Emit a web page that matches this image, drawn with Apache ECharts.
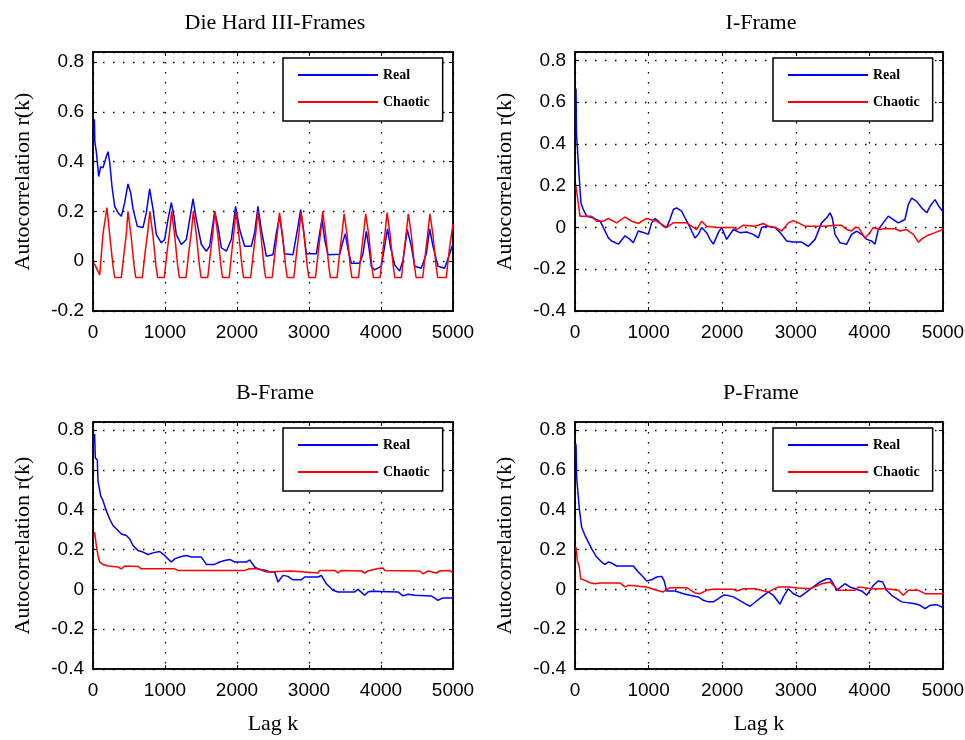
<!DOCTYPE html>
<html>
<head>
<meta charset="utf-8">
<script src="https://cdn.jsdelivr.net/npm/echarts@6/dist/echarts.min.js"></script>
<style>
html, body { margin: 0; padding: 0; background: #fff; }
#chart { width: 965px; height: 740px; }
</style>
</head>
<body>
<div id="chart"></div>
<script>
// panel titles and legend names
var titles = ['Die Hard III-Frames', 'I-Frame', 'B-Frame', 'P-Frame'];
var seriesNames = ['Real', 'Chaotic'];
var yName = 'Autocorrelation r(k)';
var xName = 'Lag k';

// x axis: lag k
var lagMin = 0, lagMax = 5000, lagStep = 1000;
// y axis ranges per panel
var yMins = [-0.2, -0.4, -0.4, -0.4];
var yMax = 0.84, yStep = 0.2;

// [lag, r(k)]
var dieHardReal = [[20,0.57],[25,0.48],[46,0.44],[79,0.34],[106,0.38],[139,0.375],[185,0.42],[208,0.44],[231,0.40],[264,0.30],[301,0.22],[347,0.195],[394,0.18],[440,0.235],[486,0.31],[523,0.275],[556,0.21],[616,0.14],[694,0.135],[741,0.195],[787,0.29],[833,0.21],[880,0.107],[949,0.074],[995,0.087],[1042,0.168],[1088,0.235],[1125,0.18],[1157,0.107],[1227,0.067],[1296,0.087],[1343,0.168],[1389,0.25],[1435,0.168],[1505,0.067],[1574,0.04],[1620,0.06],[1667,0.154],[1690,0.2],[1736,0.14],[1782,0.054],[1852,0.04],[1921,0.087],[1981,0.22],[2037,0.127],[2106,0.06],[2199,0.06],[2245,0.114],[2291,0.22],[2338,0.127],[2407,0.02],[2500,0.026],[2546,0.113],[2593,0.18],[2625,0.113],[2662,0.03],[2778,0.026],[2847,0.14],[2884,0.207],[2917,0.14],[2963,0.03],[3102,0.03],[3148,0.113],[3181,0.167],[3218,0.086],[3264,0.026],[3426,0.028],[3472,0.08],[3505,0.11],[3540,0.05],[3588,-0.008],[3704,-0.008],[3750,0.03],[3796,0.12],[3830,0.06],[3865,-0.02],[3912,-0.035],[4005,-0.02],[4051,0.06],[4090,0.13],[4130,0.06],[4190,-0.015],[4259,-0.04],[4306,0.005],[4366,0.127],[4421,0.06],[4468,-0.02],[4560,-0.028],[4630,0.03],[4676,0.13],[4722,0.06],[4792,-0.02],[4884,-0.028],[4954,0.03],[5000,0.07]];
var dieHardChaotic = [[20,-0.01],[93,-0.055],[139,0.11],[194,0.215],[231,0.11],[278,-0.02],[301,-0.065],[394,-0.065],[430,0.03],[463,0.11],[486,0.2],[526,0.11],[571,-0.02],[593,-0.065],[686,-0.065],[726,0.04],[761,0.12],[790,0.2],[830,0.11],[875,-0.02],[897,-0.065],[990,-0.065],[1030,0.04],[1065,0.12],[1092,0.2],[1132,0.11],[1177,-0.02],[1199,-0.065],[1292,-0.065],[1332,0.04],[1367,0.12],[1394,0.2],[1434,0.11],[1479,-0.02],[1501,-0.065],[1594,-0.065],[1634,0.04],[1667,0.12],[1692,0.2],[1732,0.11],[1777,-0.02],[1799,-0.065],[1892,-0.065],[1928,0.04],[1958,0.12],[1984,0.2],[2024,0.11],[2069,-0.02],[2091,-0.065],[2190,-0.065],[2230,0.04],[2263,0.12],[2290,0.2],[2330,0.11],[2375,-0.02],[2397,-0.065],[2490,-0.065],[2530,0.04],[2563,0.12],[2590,0.195],[2630,0.11],[2675,-0.02],[2697,-0.065],[2790,-0.065],[2830,0.04],[2863,0.12],[2890,0.195],[2930,0.11],[2975,-0.02],[2997,-0.065],[3090,-0.065],[3130,0.04],[3163,0.12],[3190,0.2],[3230,0.11],[3275,-0.02],[3297,-0.065],[3390,-0.065],[3428,0.04],[3461,0.12],[3488,0.19],[3528,0.11],[3573,-0.02],[3595,-0.065],[3688,-0.065],[3728,0.04],[3761,0.12],[3788,0.19],[3828,0.11],[3873,-0.02],[3895,-0.065],[3988,-0.065],[4025,0.04],[4058,0.12],[4085,0.195],[4125,0.11],[4170,-0.02],[4192,-0.065],[4285,-0.065],[4320,0.04],[4353,0.12],[4380,0.19],[4420,0.11],[4465,-0.02],[4487,-0.065],[4580,-0.065],[4620,0.04],[4653,0.12],[4680,0.19],[4720,0.11],[4765,-0.02],[4787,-0.065],[4907,-0.065],[4950,0.05],[5000,0.15]];

var iReal = [[14,0.665],[20,0.45],[45,0.443],[59,0.23],[81,0.117],[113,0.086],[158,0.054],[249,0.046],[340,0.03],[385,0],[453,-0.05],[498,-0.065],[589,-0.08],[680,-0.04],[747,-0.057],[792,-0.073],[860,-0.017],[937,-0.025],[996,-0.033],[1041,0.022],[1087,0.043],[1132,0.03],[1200,0.006],[1245,0],[1290,0.038],[1336,0.086],[1381,0.094],[1449,0.078],[1495,0.046],[1563,0],[1630,-0.05],[1676,-0.033],[1721,0],[1789,-0.025],[1834,-0.057],[1880,-0.08],[1948,-0.025],[1993,0],[2060,-0.057],[2151,-0.01],[2241,-0.025],[2332,-0.022],[2422,-0.033],[2491,-0.05],[2536,0],[2604,0.006],[2717,0],[2808,-0.033],[2876,-0.065],[2967,-0.07],[3079,-0.07],[3170,-0.09],[3261,-0.057],[3351,0.022],[3419,0.046],[3465,0.07],[3496,0.046],[3533,-0.033],[3600,-0.073],[3691,-0.08],[3759,-0.033],[3827,-0.017],[3895,-0.033],[3963,-0.057],[4031,-0.065],[4076,-0.08],[4121,-0.01],[4189,0.022],[4257,0.054],[4325,0.038],[4393,0.022],[4483,0.038],[4529,0.11],[4574,0.14],[4642,0.125],[4710,0.094],[4778,0.07],[4823,0.1],[4891,0.133],[4946,0.1],[5000,0.075]];
var iChaotic = [[14,0.197],[32,0.15],[68,0.054],[226,0.054],[294,0.03],[385,0.03],[453,0.043],[566,0.022],[680,0.05],[770,0.03],[860,0.019],[973,0.043],[1109,0.03],[1245,0],[1336,0.022],[1517,0.022],[1653,-0.01],[1721,0.03],[1789,0.006],[1925,0],[2151,0],[2196,-0.01],[2287,0.011],[2446,0.006],[2559,0.019],[2627,0.006],[2717,0],[2808,-0.017],[2899,0.022],[2967,0.033],[3035,0.022],[3125,0.006],[3397,0.006],[3533,0.01],[3623,0.01],[3691,-0.01],[3759,-0.017],[3804,0],[3850,0],[3895,-0.025],[3940,-0.05],[4008,-0.025],[4053,0],[4144,-0.01],[4189,-0.006],[4348,-0.006],[4416,-0.017],[4506,-0.01],[4597,-0.033],[4665,-0.07],[4733,-0.05],[4801,-0.037],[4891,-0.025],[5000,-0.01]];

var bReal = [[23,0.78],[32,0.66],[60,0.65],[69,0.545],[93,0.537],[106,0.47],[139,0.445],[185,0.395],[231,0.353],[278,0.32],[347,0.295],[394,0.278],[463,0.27],[509,0.253],[556,0.22],[625,0.195],[694,0.187],[764,0.175],[833,0.183],[926,0.19],[995,0.17],[1042,0.153],[1088,0.137],[1134,0.153],[1227,0.165],[1296,0.17],[1366,0.162],[1505,0.162],[1574,0.125],[1690,0.125],[1759,0.137],[1829,0.145],[1898,0.15],[1968,0.137],[2130,0.137],[2176,0.148],[2245,0.112],[2292,0.103],[2338,0.098],[2407,0.095],[2454,0.087],[2523,0.087],[2569,0.037],[2639,0.07],[2708,0.065],[2778,0.048],[2894,0.048],[2940,0.062],[3125,0.062],[3171,0.07],[3241,0.028],[3333,-0.005],[3403,-0.013],[3634,-0.013],[3681,0],[3773,-0.03],[3819,-0.013],[3866,-0.01],[4236,-0.013],[4306,-0.033],[4375,-0.025],[4468,-0.03],[4699,-0.033],[4792,-0.055],[4861,-0.043],[5000,-0.043]];
var bChaotic = [[23,0.287],[46,0.22],[69,0.17],[93,0.137],[139,0.125],[208,0.117],[347,0.112],[394,0.103],[440,0.117],[625,0.115],[671,0.103],[1134,0.103],[1180,0.095],[2106,0.095],[2176,0.103],[2292,0.103],[2407,0.087],[2431,0.095],[2755,0.092],[2778,0.082],[3125,0.082],[3148,0.095],[3356,0.095],[3403,0.083],[3449,0.095],[3727,0.092],[3773,0.082],[3819,0.092],[3958,0.105],[4028,0.107],[4051,0.095],[4537,0.092],[4583,0.078],[4653,0.092],[4769,0.082],[4815,0.092],[4954,0.095],[5000,0.082]];

var pReal = [[14,0.728],[23,0.56],[45,0.553],[59,0.403],[82,0.395],[91,0.31],[136,0.27],[181,0.237],[226,0.203],[294,0.162],[362,0.137],[408,0.125],[453,0.137],[498,0.132],[566,0.117],[793,0.117],[860,0.087],[928,0.062],[974,0.042],[1042,0.048],[1110,0.062],[1178,0.065],[1209,0.045],[1245,-0.008],[1359,-0.008],[1472,-0.022],[1562,-0.03],[1676,-0.038],[1744,-0.055],[1812,-0.063],[1880,-0.063],[1948,-0.047],[2015,-0.03],[2060,-0.03],[2151,-0.038],[2219,-0.052],[2310,-0.072],[2378,-0.085],[2446,-0.065],[2536,-0.038],[2627,-0.013],[2695,-0.03],[2785,-0.075],[2830,-0.038],[2899,0.003],[2967,-0.022],[3057,-0.038],[3148,-0.013],[3238,0.012],[3329,0.037],[3419,0.053],[3465,0.053],[3510,0.028],[3555,-0.005],[3614,0.012],[3668,0.028],[3736,0.012],[3804,0.003],[3895,-0.008],[3963,-0.03],[4008,-0.005],[4053,0.02],[4121,0.042],[4180,0.037],[4234,-0.005],[4302,-0.03],[4370,-0.047],[4438,-0.063],[4529,-0.068],[4620,-0.072],[4688,-0.08],[4756,-0.097],[4824,-0.08],[4914,-0.077],[5000,-0.092]];
var pChaotic = [[14,0.212],[32,0.145],[59,0.112],[77,0.053],[136,0.045],[204,0.033],[272,0.028],[340,0.032],[611,0.032],[679,0.012],[725,0.02],[974,0.012],[1110,-0.005],[1200,-0.013],[1291,0.008],[1517,0.008],[1630,-0.018],[1698,-0.022],[1789,-0.005],[1857,0],[2151,0],[2197,-0.008],[2287,0.003],[2446,0.003],[2627,-0.013],[2763,0.012],[2899,0.012],[3035,0.007],[3193,0.003],[3351,0.028],[3465,0.037],[3578,-0.005],[3804,-0.005],[3850,0.012],[4031,0.003],[4234,0.003],[4393,-0.005],[4461,-0.03],[4529,-0.005],[4665,-0.005],[4756,-0.022],[5000,-0.022]];

var realData = [dieHardReal, iReal, bReal, pReal];
var chaoticData = [dieHardChaotic, iChaotic, bChaotic, pChaotic];

// layout of the four panels (pixels)
var boxes = [
    { left: 93, top: 52, width: 360, height: 259 },
    { left: 575, top: 52, width: 368, height: 259 },
    { left: 93, top: 422, width: 360, height: 247 },
    { left: 575, top: 422, width: 368, height: 247 }
];

var serif = 'Liberation Serif';
var sans = 'Liberation Sans';
var dotted = { color: '#000', width: 1.3, type: [1.5, 8.5] };

var grids = [], xAxes = [], yAxes = [], series = [], titleList = [], legends = [];

boxes.forEach(function (b, i) {
    grids.push({
        left: b.left, top: b.top, width: b.width, height: b.height,
        show: true, borderColor: '#000', borderWidth: 1.5, backgroundColor: '#fff',
        outerBoundsMode: 'none'
    });

    // bottom x axis
    xAxes.push({
        type: 'value', gridIndex: i, min: lagMin, max: lagMax, interval: lagStep,
        name: i >= 2 ? xName : '', nameLocation: 'middle', nameGap: 44,
        nameTextStyle: { fontFamily: serif, fontSize: 22, color: '#000' },
        axisLine: { show: true, onZero: false, lineStyle: { color: '#000', width: 1.5 } },
        axisTick: { show: true, inside: true, length: 4, lineStyle: { color: '#000' } },
        axisLabel: {
            fontFamily: sans, fontSize: 19, color: '#000', margin: 12,
            formatter: function (v) { return String(v); }
        },
        splitLine: { show: true, lineStyle: dotted }
    });
    // top x axis (ticks only)
    xAxes.push({
        type: 'value', gridIndex: i, position: 'top', min: lagMin, max: lagMax, interval: lagStep,
        axisLine: { show: true, onZero: false, lineStyle: { color: '#000', width: 1.5 } },
        axisTick: { show: true, inside: true, length: 4, lineStyle: { color: '#000' } },
        axisLabel: { show: false },
        splitLine: { show: false }
    });

    // left y axis
    yAxes.push({
        type: 'value', gridIndex: i, min: yMins[i], max: yMax, interval: yStep,
        name: yName, nameLocation: 'middle', nameGap: 59,
        nameTextStyle: { fontFamily: serif, fontSize: 22, color: '#000' },
        axisLine: { show: true, onZero: false, lineStyle: { color: '#000', width: 1.5 } },
        axisTick: { show: true, inside: true, length: 4, lineStyle: { color: '#000' } },
        axisLabel: { fontFamily: sans, fontSize: 19, color: '#000', margin: 9, showMaxLabel: false },
        splitLine: { show: true, lineStyle: dotted }
    });
    // right y axis (ticks only)
    yAxes.push({
        type: 'value', gridIndex: i, position: 'right', min: yMins[i], max: yMax, interval: yStep,
        axisLine: { show: true, onZero: false, lineStyle: { color: '#000', width: 1.5 } },
        axisTick: { show: true, inside: true, length: 4, lineStyle: { color: '#000' } },
        axisLabel: { show: false },
        splitLine: { show: false }
    });

    series.push({
        name: seriesNames[0], type: 'line', xAxisIndex: 2 * i, yAxisIndex: 2 * i,
        data: realData[i], symbol: 'none', animation: false,
        lineStyle: { color: '#0000ff', width: 1.5 }, itemStyle: { color: '#0000ff' }
    });
    series.push({
        name: seriesNames[1], type: 'line', xAxisIndex: 2 * i, yAxisIndex: 2 * i,
        data: chaoticData[i], symbol: 'none', animation: false,
        lineStyle: { color: '#ff0000', width: 1.5 }, itemStyle: { color: '#ff0000' }
    });

    titleList.push({
        text: titles[i],
        left: b.left + b.width / 2 - 3, top: b.top - 45, textAlign: 'center',
        textStyle: { fontFamily: serif, fontSize: 22, fontWeight: 'normal', color: '#000' }
    });

    legends.push({
        data: seriesNames, orient: 'vertical', icon: 'rect',
        left: b.left + b.width - 170, top: b.top + 6,
        itemWidth: 80, itemHeight: 2, itemGap: 13,
        padding: [10, 13, 12, 15],
        backgroundColor: '#fff', borderColor: '#000', borderWidth: 1.5,
        textStyle: { fontFamily: serif, fontSize: 14, fontWeight: 'bold', color: '#000', lineHeight: 14 }
    });
});

var chart = echarts.init(document.getElementById('chart'), null, { renderer: 'canvas' });
chart.setOption({
    backgroundColor: '#fff',
    animation: false,
    title: titleList,
    legend: legends,
    grid: grids,
    xAxis: xAxes,
    yAxis: yAxes,
    series: series
});
</script>
</body>
</html>
